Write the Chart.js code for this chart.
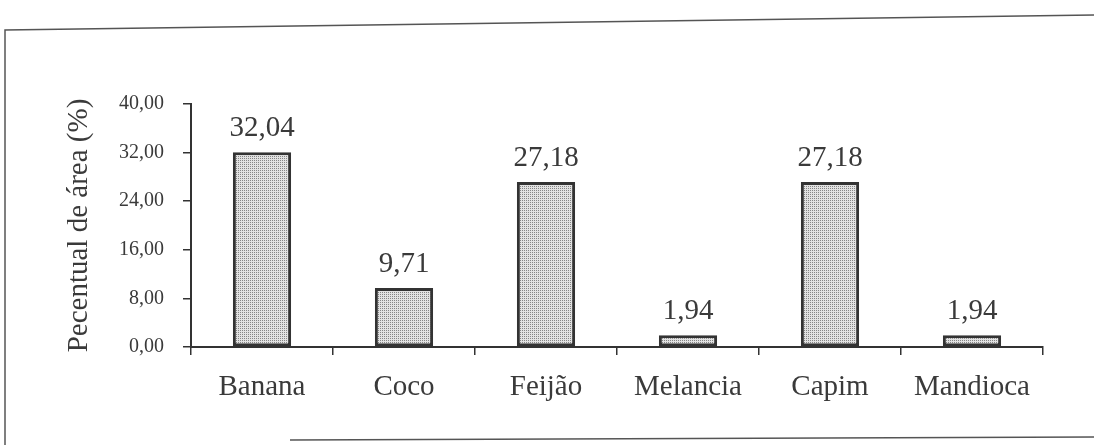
<!DOCTYPE html>
<html>
<head>
<meta charset="utf-8">
<title>Pecentual de área</title>
<script src="https://cdn.jsdelivr.net/npm/chart.js@4/dist/chart.umd.min.js"></script>
<style>
  html, body { margin: 0; padding: 0; background: #fff; }
  #wrap { width: 1094px; height: 445px; }
</style>
</head>
<body>
<div id="wrap"><canvas id="chart" width="1094" height="445"></canvas></div>
<script>
// Data
const categories = ['Banana', 'Coco', 'Feijão', 'Melancia', 'Capim', 'Mandioca'];
const areaPercent = [32.04, 9.71, 27.18, 1.94, 27.18, 1.94];
const yTicks = [0, 8, 16, 24, 32, 40];

const inkColor = '#3a3a3a';
const lineColor = '#333333';
const serif = '"Liberation Serif", "DejaVu Serif", serif';

// Format with decimal comma, e.g. 32,04
function formatComma(v) {
  return Number(v).toFixed(2).replace('.', ',');
}

// Stippled grey fill like the scanned bars
function makeStipple() {
  const c = document.createElement('canvas');
  c.width = 2;
  c.height = 2;
  const g = c.getContext('2d');
  g.fillStyle = '#e2e2e2';
  g.fillRect(0, 0, 2, 2);
  g.fillStyle = '#858585';
  g.fillRect(0, 0, 1, 1);
  return g.createPattern(c, 'repeat');
}

// Page frame around the figure
const framePlugin = {
  id: 'frame',
  beforeDraw(chart) {
    const ctx = chart.ctx;
    ctx.save();
    ctx.fillStyle = '#fff';
    ctx.fillRect(0, 0, chart.width, chart.height);
    ctx.strokeStyle = '#555';
    ctx.lineWidth = 1.5;
    ctx.beginPath();
    ctx.moveTo(5, 445);
    ctx.lineTo(5, 30);
    ctx.lineTo(chart.width, 15);
    ctx.moveTo(290, 440);
    ctx.lineTo(chart.width, 437);
    ctx.stroke();
    ctx.restore();
  }
};

// Value labels above bars
const valueLabels = {
  id: 'valueLabels',
  afterDatasetsDraw(chart) {
    const ctx = chart.ctx;
    const meta = chart.getDatasetMeta(0);
    ctx.save();
    ctx.font = '29px ' + serif;
    ctx.fillStyle = inkColor;
    ctx.textAlign = 'center';
    ctx.textBaseline = 'alphabetic';
    meta.data.forEach((bar, i) => {
      ctx.fillText(formatComma(areaPercent[i]), bar.x, bar.y - 16);
    });
    ctx.restore();
  }
};

const ctx = document.getElementById('chart').getContext('2d');

new Chart(ctx, {
  type: 'bar',
  data: {
    labels: categories,
    datasets: [{
      data: areaPercent,
      backgroundColor: makeStipple(),
      borderColor: lineColor,
      borderWidth: 3,
      borderSkipped: false,
      barPercentage: 0.41,
      categoryPercentage: 1.0
    }]
  },
  options: {
    responsive: false,
    animation: false,
    layout: {
      padding: { left: 60, right: 51, top: 104, bottom: 0 }
    },
    plugins: {
      legend: { display: false },
      tooltip: { enabled: false }
    },
    scales: {
      x: {
        offset: true,
        afterFit(scale) { scale.height = 98; },
        grid: {
          display: true,
          offset: true,
          drawOnChartArea: false,
          drawTicks: true,
          tickLength: 8,
          color: lineColor,
          lineWidth: 1.5
        },
        border: { display: true, color: lineColor, width: 2 },
        ticks: {
          color: inkColor,
          padding: 15,
          font: { family: serif, size: 29 }
        }
      },
      y: {
        min: yTicks[0],
        max: yTicks[yTicks.length - 1],
        afterFit(scale) { scale.width = 131; },
        afterBuildTicks(scale) {
          scale.ticks = yTicks.map(v => ({ value: v }));
        },
        grid: {
          display: true,
          drawOnChartArea: false,
          drawTicks: true,
          tickLength: 8,
          color: lineColor,
          lineWidth: 1.5
        },
        border: { display: true, color: lineColor, width: 2 },
        ticks: {
          color: inkColor,
          padding: 19,
          font: { family: serif, size: 20 },
          callback: value => formatComma(value)
        },
        title: {
          display: true,
          text: 'Pecentual de área (%)',
          color: inkColor,
          padding: { top: 2, bottom: 2 },
          font: { family: serif, size: 29 }
        }
      }
    }
  },
  plugins: [framePlugin, valueLabels]
});
</script>
</body>
</html>
